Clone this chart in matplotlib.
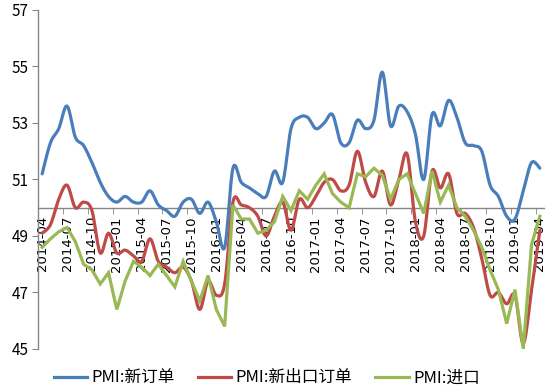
import numpy as np
import matplotlib
matplotlib.use("Agg")
import matplotlib.pyplot as plt
from matplotlib.lines import Line2D

plt.rcParams['font.family'] = ['Noto Sans CJK SC', 'DejaVu Sans']

# ---- data ----
months = []
y, m = 2014, 4
for _ in range(61):
    months.append(f"{y}-{m:02d}")
    m += 1
    if m > 12:
        m = 1
        y += 1

new_orders = [51.2, 52.3, 52.8, 53.6, 52.5, 52.2, 51.6, 50.9, 50.4,
              50.2, 50.4, 50.2, 50.2, 50.6, 50.1, 49.9, 49.7, 50.2, 50.3, 49.8, 50.2,
              49.5, 48.6, 51.4, 50.9, 50.7, 50.5, 50.4, 51.3, 50.9, 52.8, 53.2, 53.2,
              52.8, 53.0, 53.3, 52.3, 52.3, 53.1, 52.8, 53.1, 54.8, 52.9, 53.6, 53.4,
              52.6, 51.0, 53.3, 52.9, 53.8, 53.2, 52.3, 52.2, 52.0, 50.8, 50.4, 49.7,
              49.6, 50.6, 51.6, 51.4]

export_orders = [49.1, 49.4, 50.3, 50.8, 50.0, 50.2, 49.9, 48.4, 49.1,
                 48.4, 48.5, 48.3, 48.1, 48.9, 48.1, 47.9, 47.7, 47.9, 47.4, 46.4, 47.4,
                 46.9, 47.3, 50.2, 50.1, 50.0, 49.7, 49.0, 49.7, 50.2, 49.2, 50.3, 50.0,
                 50.4, 50.9, 51.0, 50.6, 50.8, 52.0, 50.9, 50.4, 51.3, 50.1, 51.0, 51.9,
                 49.5, 49.0, 51.3, 50.7, 51.2, 49.8, 49.8, 49.3, 48.2, 46.9, 47.0, 46.6,
                 46.9, 45.2, 47.1, 49.2]

imports = [48.6, 48.9, 49.15, 49.3, 48.8, 48.0, 47.8, 47.3, 47.7,
           46.4, 47.4, 48.1, 47.9, 47.6, 48.0, 47.6, 47.2, 48.1, 47.4, 46.7, 47.6,
           46.4, 45.8, 50.1, 49.6, 49.6, 49.1, 49.2, 49.5, 50.4, 49.9, 50.6, 50.3,
           50.8, 51.2, 50.5, 50.2, 50.0, 51.2, 51.1, 51.4, 51.15, 50.3, 51.0, 51.2,
           50.5, 49.8, 51.3, 50.2, 50.8, 50.0, 49.7, 49.2, 48.6, 47.8, 47.1, 45.9,
           47.1, 45.0, 48.7, 49.7]

series_names = ["PMI:新订单", "PMI:新出口订单", "PMI:进口"]
colors = ["#4A7EBB", "#BE4B48", "#98B954"]
y_ticks = [45, 47, 49, 51, 53, 55, 57]


def smooth(xs, ys, n=12):
    """Catmull-Rom style smoothing (like Excel smoothed lines)."""
    xs = np.asarray(xs, float)
    ys = np.asarray(ys, float)
    px = np.concatenate([[xs[0]], xs, [xs[-1]]])
    py = np.concatenate([[ys[0]], ys, [ys[-1]]])
    outx, outy = [], []
    t = np.linspace(0, 1, n, endpoint=False)
    for i in range(1, len(px) - 2):
        p0 = np.array([px[i], py[i]])
        p3 = np.array([px[i + 1], py[i + 1]])
        c1 = p0 + (p3 - np.array([px[i - 1], py[i - 1]])) / 6.0
        c2 = p3 - (np.array([px[i + 2], py[i + 2]]) - p0) / 6.0
        b = ((1 - t) ** 3)[:, None] * p0 + (3 * (1 - t) ** 2 * t)[:, None] * c1 \
            + (3 * (1 - t) * t ** 2)[:, None] * c2 + (t ** 3)[:, None] * p3
        outx.extend(b[:, 0])
        outy.extend(b[:, 1])
    outx.append(xs[-1])
    outy.append(ys[-1])
    return np.array(outx), np.array(outy)


fig = plt.figure(figsize=(5.5, 3.92), dpi=100)
ax = fig.add_axes([0.0691, 0.1097, 0.92, 0.8648])

x = np.arange(len(months))
lw = 2.3
sx, sy = smooth(x, new_orders)
ax.plot(sx, sy, color=colors[0], lw=lw, solid_capstyle='round', zorder=3)
sx, sy = smooth(x, export_orders)
ax.plot(sx, sy, color=colors[1], lw=lw, solid_capstyle='round', zorder=3)
ax.plot(x, imports, color=colors[2], lw=lw, solid_joinstyle='miter', zorder=3)

ax.set_xlim(-0.5, len(months) - 0.5)
ax.set_ylim(45, 57)
ax.set_yticks(y_ticks)

spine_c = "#868686"
for s in ['top', 'right']:
    ax.spines[s].set_visible(False)
ax.spines['left'].set_color(spine_c)
ax.spines['bottom'].set_color(spine_c)
ax.spines['bottom'].set_position(('data', 50))
ax.spines['left'].set_linewidth(1.0)
ax.spines['bottom'].set_linewidth(1.0)

ax.tick_params(axis='y', direction='out', length=4, color=spine_c, labelsize=11, pad=3)
# label positions at every 3 months, tick marks at category boundaries
lab_idx = list(range(0, len(months), 3))
ax.set_xticks(lab_idx)
ax.set_xticklabels([months[i] for i in lab_idx], rotation=90, va='top', ha='center',
                   family=['DejaVu Sans'])
ax.tick_params(axis='x', which='major', length=0, labelsize=9.5, pad=6)
ax.set_xticks([i - 0.5 for i in range(0, len(months) + 1, 3)], minor=True)
ax.tick_params(axis='x', which='minor', direction='out', length=4, color=spine_c)

handles = [Line2D([0], [0], color=c, lw=lw) for c in colors]
fig.legend(handles, series_names, loc='center', bbox_to_anchor=(0.485, 0.036), ncol=3,
           frameon=False, fontsize=12, handlelength=2.0, handletextpad=0.25,
           columnspacing=1.4)

fig.savefig("out.png", dpi=100)
